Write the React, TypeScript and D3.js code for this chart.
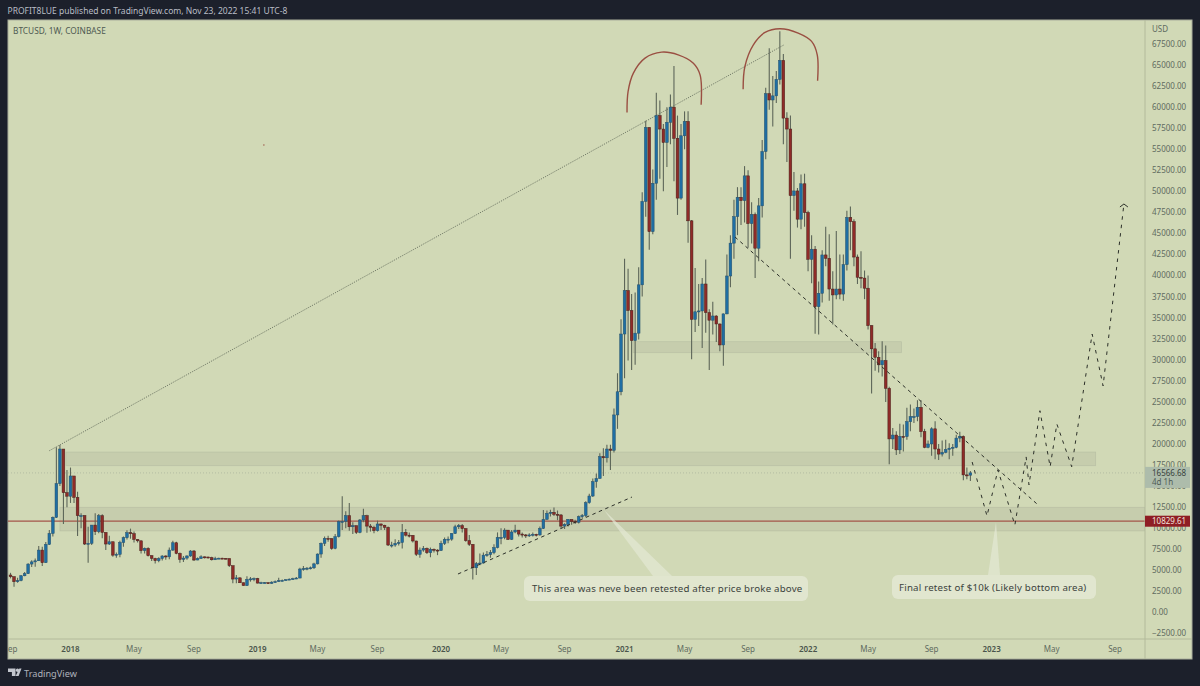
import React, { useEffect, useRef } from 'react';
import * as d3 from 'd3';

const firstWeek = Date.UTC(2017, 8, 4);
const lastWeek = Date.UTC(2022, 10, 21);

// weekly BTCUSD, one entry per Monday from Sep 4 2017
const firstOpen = 4440;
const closes = [
	4240,3640,3780,4350,4600,5740,6000,6130,7400,5900,
	8080,9380,11290,15300,19400,14215,13800,16200,13660,11480,
	11500,8120,8200,10370,9580,11480,9500,8120,8390,6800,
	6900,8300,8870,9460,9350,8670,8500,7330,7600,6730,
	6410,6140,6400,6700,6600,7400,8270,7000,6300,6450,
	6700,7290,6220,6400,6600,6580,6500,6250,6400,6440,
	6430,6400,5550,3960,4100,3520,3190,3920,3980,4020,
	3480,3530,3530,3430,3590,3650,3780,3800,3880,3950,
	4000,4080,5150,5200,5250,5300,5760,6930,8200,8790,
	8750,7600,8990,10770,10800,11480,10170,10300,9500,10970,
	11480,10250,10100,9700,10500,10350,10100,8000,8000,8200,
	8300,9500,9170,9150,8480,6900,7400,7600,7090,7500,
	7400,7350,8190,8680,8700,9370,10170,10300,9950,8520,
	8080,5300,5800,5860,6800,6880,7100,7700,8900,8900,
	9770,8670,9550,9770,9300,9200,9100,9200,9270,9200,
	9970,11050,11760,11880,11650,11570,10250,10450,11050,10780,
	10700,11370,11500,13030,13820,15520,15900,18500,18360,19400,
	19250,23450,26200,33060,38220,35850,32280,33160,38900,48800,
	57590,45220,50960,59000,57400,55800,58200,60000,56300,49200,
	56600,58300,46500,34800,35700,35800,39000,35600,34700,35200,
	34250,31760,35450,39950,43850,47000,49300,48900,51840,46170,
	47260,43250,48280,54730,61600,60850,61340,63300,65550,58700,
	57400,49500,50050,46700,50900,47480,41930,43130,36300,37900,
	42450,42050,38400,37700,38400,37800,41300,46900,46400,42200,
	39800,39700,38500,34060,31300,30300,29400,29900,26610,20600,
	21060,19300,20900,20870,22650,23250,23260,24350,21470,19600,
	20000,21800,19400,18800,19000,19350,19500,19600,20700,20900,
	16330,16300,16566,
];
const highs = [
	4700,4250,4100,4450,4800,5850,6200,6400,7900,7800,
	8350,9800,11400,19600,19891,19400,16900,17200,16200,14335,
	11760,11500,10177,10370,11770,11700,11650,9500,9100,8400,
	7100,8500,9000,9760,9950,9600,8700,8550,7700,7750,
	6800,6500,6560,6800,6800,7700,8500,8400,7100,6700,
	6800,7400,7400,6530,6800,6650,6600,6620,6600,6500,
	6500,6470,6400,5550,4450,4180,3560,4300,4200,4150,
	4100,3650,3620,3580,3700,3800,4100,3900,3950,4020,
	4100,4200,5300,5500,5400,5450,5900,7000,8300,9000,
	9100,8800,9300,10900,13800,12000,13000,10700,10300,11100,
	12300,11600,10500,10300,10900,10550,10400,10200,8400,8700,
	8600,10500,9900,9500,9150,8500,7700,7900,7700,7700,
	7600,7500,8500,8900,9000,9400,10400,10500,10500,10000,
	9200,8100,6000,7000,7100,7300,7400,8100,9500,10000,
	10000,9800,9800,10400,9800,9500,9300,9400,9500,9350,
	10200,12150,12100,12200,12470,12100,11700,10600,11100,11000,
	11000,11500,11700,13200,14100,15900,16500,18900,19480,19900,
	19900,24200,28400,34800,42000,40800,37800,38000,41000,49900,
	58400,57600,52600,61700,60800,58000,60000,61500,64900,59000,
	58000,59500,59500,46600,40900,39000,39700,41900,36000,36900,
	35300,34300,35500,42500,44800,49000,50500,50500,53000,52500,
	48700,47500,49200,56100,62300,67000,63700,64300,69000,66300,
	59400,59000,52300,50400,52000,52100,47700,44800,43500,39300,
	43000,45800,44900,40500,45300,42500,42500,47700,48200,46700,
	42500,42900,40600,40000,34100,32000,31000,32200,31700,26800,
	21900,21500,22400,22300,24300,24700,24200,25200,25200,21800,
	20400,22000,22700,20000,20400,20500,20100,20000,21100,21450,
	21000,17200,16800,
];
const lows = [
	4040,3050,3520,3700,4300,4560,5400,5425,6100,5500,
	5900,8000,9000,11200,15000,10494,12500,13000,13000,9070,
	9980,8000,5900,8000,9200,9400,8800,7400,8000,6600,
	6500,6550,7800,8650,8750,8300,8300,7000,7000,6650,
	6100,5800,5960,6150,6250,6300,7300,6900,5900,6000,
	6250,6600,6100,6200,6350,6400,6400,6150,6250,6370,
	6350,6300,5400,3450,3450,3500,3150,3130,3650,3700,
	3440,3420,3450,3380,3400,3550,3650,3700,3780,3850,
	3900,3980,4050,4950,5000,5100,5150,5700,6500,7900,
	8400,7450,7500,8900,9780,10000,9700,9300,9300,9400,
	10700,9450,9600,9400,9600,9800,9800,7900,7700,7800,
	7950,7600,9000,8900,8300,6700,6500,7200,6950,6550,
	7100,6800,7300,8000,8200,8500,9300,9900,9500,8400,
	7900,3900,4450,5600,5800,6600,6500,6900,7600,8100,
	8700,8600,8600,9400,9000,8900,8850,8950,9000,9000,
	9100,9900,11000,11400,11450,10950,9950,9900,10200,10400,
	10500,10550,11200,11300,12900,13700,14800,15900,16200,17800,
	16900,19000,21800,25800,27800,29900,28800,29400,32400,37500,
	47000,43060,44900,49000,51500,50000,52900,55600,51200,47200,
	49000,55000,43900,30060,33300,34000,31400,33200,28800,33000,
	32100,31000,29300,35400,38600,42000,44800,46000,46300,43300,
	43800,39700,41700,46900,53800,59700,57700,60500,62700,55600,
	53500,42000,47700,45700,45500,45800,40500,39100,33100,32990,
	36800,41100,37000,34200,37200,37200,37000,40600,43000,41100,
	39000,38500,37200,33600,26000,28700,28500,28000,25000,17600,
	19400,18700,18800,19100,20500,21500,22500,22700,20800,19500,
	19500,18600,18200,18100,18500,18900,18200,18600,19500,20200,
	15700,15800,15600,
];

const priceTicks = d3.range(-2500, 67501, 2500);
const yearTicks: [string, number][] = [
	['2018', Date.UTC(2018, 0, 1)], ['2019', Date.UTC(2019, 0, 7)], ['2020', Date.UTC(2020, 0, 6)],
	['2021', Date.UTC(2021, 0, 4)], ['2022', Date.UTC(2022, 0, 3)], ['2023', Date.UTC(2023, 0, 2)],
];
const monthTicks: [string, number][] = [
	['Sep', Date.UTC(2017, 8, 4)], ['May', Date.UTC(2018, 4, 7)], ['Sep', Date.UTC(2018, 8, 3)],
	['May', Date.UTC(2019, 4, 6)], ['Sep', Date.UTC(2019, 8, 2)], ['May', Date.UTC(2020, 4, 4)],
	['Sep', Date.UTC(2020, 8, 7)], ['May', Date.UTC(2021, 4, 3)], ['Sep', Date.UTC(2021, 8, 6)],
	['May', Date.UTC(2022, 4, 2)], ['Sep', Date.UTC(2022, 8, 5)], ['May', Date.UTC(2023, 4, 1)],
	['Sep', Date.UTC(2023, 8, 4)],
];

// drawings, as [week number, price]
type Pt = [number, number];
const longTrend: Pt[] = [[11, 19200], [219.2, 67400]];
const riseTrend: Pt[] = [[126.8, 4560], [176.1, 13700]];
const fallTrend: Pt[] = [[205.3, 44580], [290.9, 12870]];
const projection: Pt[] = [
	[272.5, 17860], [276.7, 11450], [279.8, 16910], [284.6, 10380], [287.8, 18460], [288.6, 15130],
	[291.7, 23950], [294.6, 17300], [296.5, 22370], [300.7, 17300], [306.5, 33060], [309.6, 26890], [315.5, 48500],
];
const firstTop: Pt[] = [
	[174.7, 59370], [175, 61860], [176.5, 64040], [179.8, 65820], [184.5, 66530],
	[189.2, 66210], [193.5, 65220], [195.4, 63840], [195.7, 60280],
];
const secondTop: Pt[] = [
	[207.6, 62140], [208.1, 64830], [210.5, 67400], [213.8, 68870], [218, 69310],
	[223.2, 68800], [227, 67810], [228.6, 66220], [228.7, 63130],
];
const strayDot: Pt = [71.8, 55500];
// [first week, last week, top price, bottom price]
const zones: [number, number, number, number][] = [
	[15.7, 307.5, 19050, 17420],
	[14, 321.5, 12480, 9670],
	[176.4, 252.5, 32150, 30840],
];
const lastPrice = 16566.68;
const levelPrice = 10829.61;

const W = 1200;
const H = 686;
const left = 8;
const plotRight = 1145;
const chartRight = 1192;
const top = 20;
const axisY = 639;
const bottom = 659;

export default function App() {
	const ref = useRef<SVGSVGElement | null>(null);
	useEffect(() => {
		if (!ref.current) return;
		const svg = d3.select(ref.current);
		svg.selectAll('*').remove();

		const font = '"Noto Sans", sans-serif';
		const x = d3.scaleUtc().domain([firstWeek, lastWeek]).range([10.5, 970.4]);
		const bar = d3.scaleLinear().domain([0, closes.length - 1]).range([10.5, 970.4]);
		const y = d3.scaleLinear().domain([0, 67500]).range([612.4, 44]);
		const line = d3.line<Pt>().x((d) => bar(d[0])).y((d) => y(d[1]));
		const curve = d3.line<Pt>().x((d) => bar(d[0])).y((d) => y(d[1])).curve(d3.curveCatmullRom);

		svg.append('rect').attr('width', W).attr('height', H).attr('fill', '#1c202b');
		svg.append('rect').attr('x', left).attr('y', top).attr('width', chartRight - left).attr('height', bottom - top)
			.attr('fill', '#d1d9b6').attr('stroke', '#a9ad9c').attr('stroke-width', 1);

		svg.append('defs').append('clipPath').attr('id', 'plot').append('rect')
			.attr('x', left).attr('y', top).attr('width', plotRight - left).attr('height', axisY - top);

		svg.append('text').attr('x', 7.5).attr('y', 14).attr('fill', '#b9bdc6')
			.attr('font-family', font).attr('font-size', 8.5)
			.text('PROFIT8LUE published on TradingView.com, Nov 23, 2022 15:41 UTC-8');
		svg.append('text').attr('x', 13).attr('y', 34).attr('fill', '#4f5a52')
			.attr('font-family', font).attr('font-size', 8.3).text('BTCUSD, 1W, COINBASE');

		const plot = svg.append('g').attr('clip-path', 'url(#plot)');

		plot.selectAll('rect.zone').data(zones).join('rect').attr('class', 'zone')
			.attr('x', (d) => bar(d[0])).attr('width', (d) => bar(d[1]) - bar(d[0]))
			.attr('y', (d) => y(d[2])).attr('height', (d) => y(d[3]) - y(d[2]))
			.attr('fill', '#8d9282').attr('fill-opacity', 0.16)
			.attr('stroke', '#8d9282').attr('stroke-opacity', 0.25).attr('stroke-width', 0.7);

		plot.append('line').attr('x1', left).attr('x2', plotRight).attr('y1', y(lastPrice)).attr('y2', y(lastPrice))
			.attr('stroke', '#a9b199').attr('stroke-width', 0.7).attr('stroke-dasharray', '1 2');

		plot.append('line').attr('x1', left).attr('x2', plotRight).attr('y1', y(levelPrice)).attr('y2', y(levelPrice))
			.attr('stroke', '#a3544a').attr('stroke-width', 1.2);

		plot.append('path').attr('d', line(longTrend)).attr('fill', 'none')
			.attr('stroke', '#5b6354').attr('stroke-width', 0.8).attr('stroke-dasharray', '1.2 1.2');

		plot.append('circle').attr('cx', bar(strayDot[0])).attr('cy', y(strayDot[1])).attr('r', 0.7).attr('fill', '#9a4f42');

		// candles
		const opens = closes.map((_, i) => (i === 0 ? firstOpen : closes[i - 1]));
		const candles = plot.append('g');
		candles.selectAll('line').data(closes).join('line')
			.attr('x1', (_, i) => bar(i)).attr('x2', (_, i) => bar(i))
			.attr('y1', (_, i) => y(highs[i])).attr('y2', (_, i) => y(lows[i]))
			.attr('stroke', '#5d6659').attr('stroke-width', 1.1);
		candles.selectAll('rect').data(closes).join('rect')
			.attr('x', (_, i) => bar(i) - 1.35).attr('width', 2.7)
			.attr('y', (c, i) => y(Math.max(c, opens[i])))
			.attr('height', (c, i) => Math.max(1, Math.abs(y(c) - y(opens[i]))))
			.attr('fill', (c, i) => (c >= opens[i] ? '#1f6ea3' : '#8f2b28'))
			.attr('stroke', (c, i) => (c >= opens[i] ? '#27516a' : '#46201c'))
			.attr('stroke-width', 0.5);

		[firstTop, secondTop].forEach((pts) => {
			plot.append('path').attr('d', curve(pts)).attr('fill', 'none')
				.attr('stroke', '#9a4f42').attr('stroke-width', 1.4);
		});
		[riseTrend, fallTrend].forEach((pts) => {
			plot.append('path').attr('d', line(pts)).attr('fill', 'none')
				.attr('stroke', '#2c3029').attr('stroke-width', 1).attr('stroke-dasharray', '3.5 3.5');
		});
		plot.append('path').attr('d', line(projection)).attr('fill', 'none')
			.attr('stroke', '#2c3029').attr('stroke-width', 1).attr('stroke-dasharray', '3.5 5');

		// arrow head on the projection
		const tip = projection[projection.length - 1];
		const tx = bar(tip[0]);
		const ty = y(tip[1]);
		plot.append('path').attr('d', `M${tx - 4},${ty + 3}L${tx},${ty}L${tx + 4},${ty + 3}`)
			.attr('fill', 'none').attr('stroke', '#2c3029').attr('stroke-width', 1);

		// callouts
		const calloutFill = '#e4e8d4';
		const callouts = [
			{ x0: 524, x1: 808, y0: 576, y1: 601, tail: 'M604,510L653,576L672,576Z', text: 'This area was neve been retested after price broke above', tx: 532 },
			{ x0: 892, x1: 1096, y0: 575, y1: 599, tail: 'M996,522L988,575L1000,575Z', text: 'Final retest of $10k (Likely bottom area)', tx: 899 },
		];
		callouts.forEach((c) => {
			svg.append('path').attr('d', c.tail).attr('fill', calloutFill).attr('fill-opacity', 0.7);
			svg.append('rect').attr('x', c.x0).attr('y', c.y0).attr('width', c.x1 - c.x0).attr('height', c.y1 - c.y0)
				.attr('rx', 6).attr('fill', calloutFill).attr('fill-opacity', 0.85);
			svg.append('text').attr('x', c.tx).attr('y', (c.y0 + c.y1) / 2 + 3.6).attr('fill', '#3b423c')
				.attr('font-family', font).attr('font-size', 9.7).attr('letter-spacing', 0.2).text(c.text);
		});

		// axes
		svg.append('line').attr('x1', plotRight).attr('x2', plotRight).attr('y1', top).attr('y2', bottom)
			.attr('stroke', '#b3ba9b').attr('stroke-width', 1);
		svg.append('line').attr('x1', left).attr('x2', chartRight).attr('y1', axisY).attr('y2', axisY)
			.attr('stroke', '#b3ba9b').attr('stroke-width', 1);

		const axisText = '#5f6b60';
		svg.append('text').attr('x', 1152).attr('y', 32).attr('fill', axisText)
			.attr('font-family', font).attr('font-size', 8).text('USD');
		svg.selectAll('text.price').data(priceTicks).join('text').attr('class', 'price')
			.attr('x', 1152).attr('y', (d) => y(d) + 2.9).attr('fill', axisText)
			.attr('font-family', font).attr('font-size', 8)
			.text((d) => (d < 0 ? '\u2212' : '') + Math.abs(d).toFixed(2));

		const timeAxis = svg.append('g').attr('clip-path', 'url(#time)');
		svg.select('defs').append('clipPath').attr('id', 'time').append('rect')
			.attr('x', left).attr('y', axisY).attr('width', plotRight - left).attr('height', bottom - axisY);
		timeAxis.selectAll('text.month').data(monthTicks).join('text').attr('class', 'month')
			.attr('x', (d) => x(d[1])).attr('y', 652).attr('text-anchor', 'middle').attr('fill', axisText)
			.attr('font-family', font).attr('font-size', 8).text((d) => d[0]);
		timeAxis.selectAll('text.year').data(yearTicks).join('text').attr('class', 'year')
			.attr('x', (d) => x(d[1])).attr('y', 652).attr('text-anchor', 'middle').attr('fill', '#4a544b')
			.attr('font-family', font).attr('font-size', 8).attr('font-weight', 600).text((d) => d[0]);

		// price tags
		const lastY = y(lastPrice);
		svg.append('rect').attr('x', plotRight).attr('y', lastY - 6).attr('width', 45).attr('height', 21).attr('fill', '#adbcab');
		svg.append('text').attr('x', 1152).attr('y', lastY + 3).attr('fill', '#39433e')
			.attr('font-family', font).attr('font-size', 8).text('16566.68');
		svg.append('text').attr('x', 1152).attr('y', lastY + 12).attr('fill', '#4f5b55')
			.attr('font-family', font).attr('font-size', 8).text('4d 1h');

		const levelY = y(levelPrice);
		svg.append('rect').attr('x', plotRight).attr('y', levelY - 5.5).attr('width', 45).attr('height', 11).attr('fill', '#8f1d24');
		svg.append('text').attr('x', 1152).attr('y', levelY + 2.9).attr('fill', '#f1e4dc')
			.attr('font-family', font).attr('font-size', 8).text('10829.61');

		// footer logo
		const logo = svg.append('g').attr('fill', '#c3c6cd');
		logo.append('path').attr('d', 'M8,668.5h7.5v7.5h-3.6v-4h-3.9Z');
		logo.append('circle').attr('cx', 17.5).attr('cy', 670.3).attr('r', 1.7);
		logo.append('path').attr('d', 'M19.4,668.5h2.1L18.6,676h-3Z');
		svg.append('text').attr('x', 24).attr('y', 677).attr('fill', '#aeb2bb')
			.attr('font-family', font).attr('font-size', 9.2).text('TradingView');
	}, []);
	return (
		<svg ref={ref} width={W} height={H} viewBox={`0 0 ${W} ${H}`}
			style={{ position: 'fixed', left: 0, top: 0, display: 'block' }} />
	);
}
